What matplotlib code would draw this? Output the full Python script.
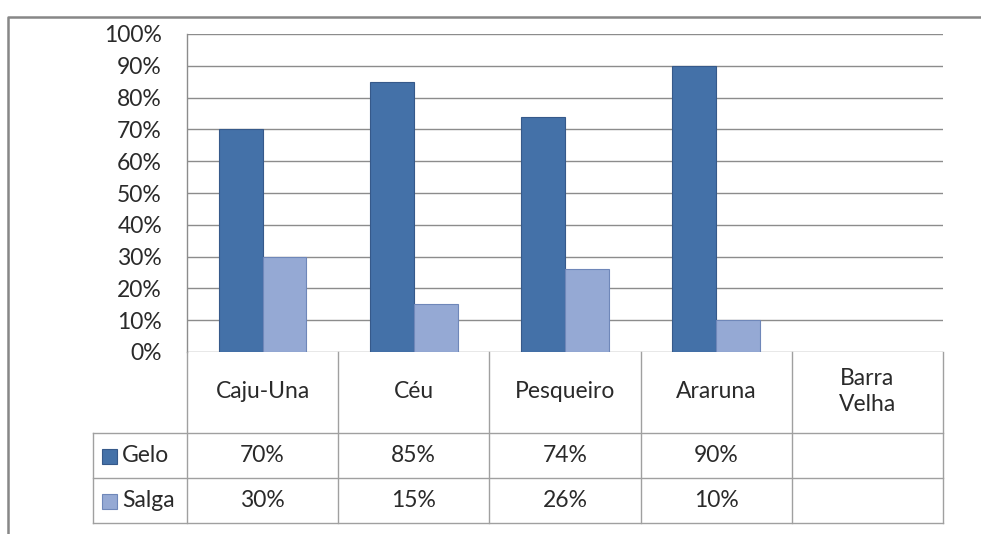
import numpy as np
import matplotlib
matplotlib.use("Agg")
import matplotlib.pyplot as plt
from matplotlib.lines import Line2D
from matplotlib.patches import Rectangle

# --- data ---
categories = ["Caju-Una", "Céu", "Pesqueiro", "Araruna", "Barra\nVelha"]
series_names = ["Gelo", "Salga"]
gelo = [70, 85, 74, 90, None]
salga = [30, 15, 26, 10, None]
yticks = list(range(0, 101, 10))

colors = ["#4471A8", "#95A9D4"]
edges = ["#36598A", "#6F87B9"]
grid_col = "#8C8C8C"
txt_col = "#2A2A2A"

plt.rcParams["font.family"] = ["Lato", "DejaVu Sans"]
FS = 16.5

W, H = 981, 534
fig = plt.figure(figsize=(W / 100, H / 100), dpi=100)

def fx(px):
    return px / W

def fy(py):
    return 1 - py / H

# outer chart frame (top and left edges visible)
fig.add_artist(Line2D([fx(8), fx(8), 1], [0, fy(17), fy(17)],
                      transform=fig.transFigure, color="#878787", lw=1.8))

# ----------------------------------------------------------
# plot area
# ----------------------------------------------------------
ax = fig.add_axes([fx(187), fy(352), fx(943) - fx(187), fy(34) - fy(352)])
n = len(categories)
x = np.arange(n) + 0.5
bw = 0.29
vals = [gelo, salga]
for k, s in enumerate(vals):
    xs = [x[i] + (k - 0.5) * bw for i in range(n) if s[i] is not None]
    hs = [v for v in s if v is not None]
    ax.bar(xs, hs, width=bw, color=colors[k], edgecolor=edges[k], lw=0.8, zorder=3)

ax.set_xlim(0, n)
ax.set_ylim(0, 100)
ax.set_yticks(yticks)
ax.set_yticklabels([f"{t}%" for t in yticks], fontsize=FS, color=txt_col)
ax.set_xticks([])
ax.tick_params(axis="y", length=0, pad=18)
ax.yaxis.grid(True, color=grid_col, lw=1.0, zorder=0)
for sp in ["top", "right", "bottom"]:
    ax.spines[sp].set_visible(False)
ax.spines["left"].set_color(grid_col)
ax.spines["left"].set_linewidth(1.0)

# ----------------------------------------------------------
# data table below
# ----------------------------------------------------------
cat_px = (943 - 187) / n
leg_w = (187 - 93) / cat_px
tab = fig.add_axes([fx(93), fy(523), fx(943) - fx(93), fy(352) - fy(523)])
tab.set_xlim(-leg_w, n)
# rows: header 81px, series rows 45px each
row_h = [81, 45, 45]
tab.set_ylim(sum(row_h), 0)
tab.axis("off")
lc = "#A0A0A0"
lw = 1.0
y_edges = np.cumsum([0] + row_h)

for i in range(n + 1):
    tab.plot([i, i], [0, y_edges[-1]], color=lc, lw=lw, clip_on=False)
tab.plot([-leg_w, -leg_w], [y_edges[1], y_edges[-1]], color=lc, lw=lw, clip_on=False)
for yy in y_edges[1:]:
    tab.plot([-leg_w, n], [yy, yy], color=lc, lw=lw, clip_on=False)

for i, c in enumerate(categories):
    tab.text(i + 0.5, row_h[0] / 2 - 1, c, ha="center", va="center",
             fontsize=FS, color=txt_col, linespacing=1.3)

for k, (name, s) in enumerate(zip(series_names, vals)):
    yc = (y_edges[k + 1] + y_edges[k + 2]) / 2
    tab.add_patch(Rectangle((-leg_w + 9 / cat_px, yc - 7), 15 / cat_px, 15,
                            facecolor=colors[k], edgecolor=edges[k], lw=0.8))
    tab.text(-leg_w + 29 / cat_px, yc, name, ha="left", va="center",
             fontsize=FS, color=txt_col)
    for i, v in enumerate(s):
        if v is not None:
            tab.text(i + 0.5, yc, f"{v}%", ha="center", va="center",
                     fontsize=FS, color=txt_col)

fig.savefig("out.png", dpi=100)
